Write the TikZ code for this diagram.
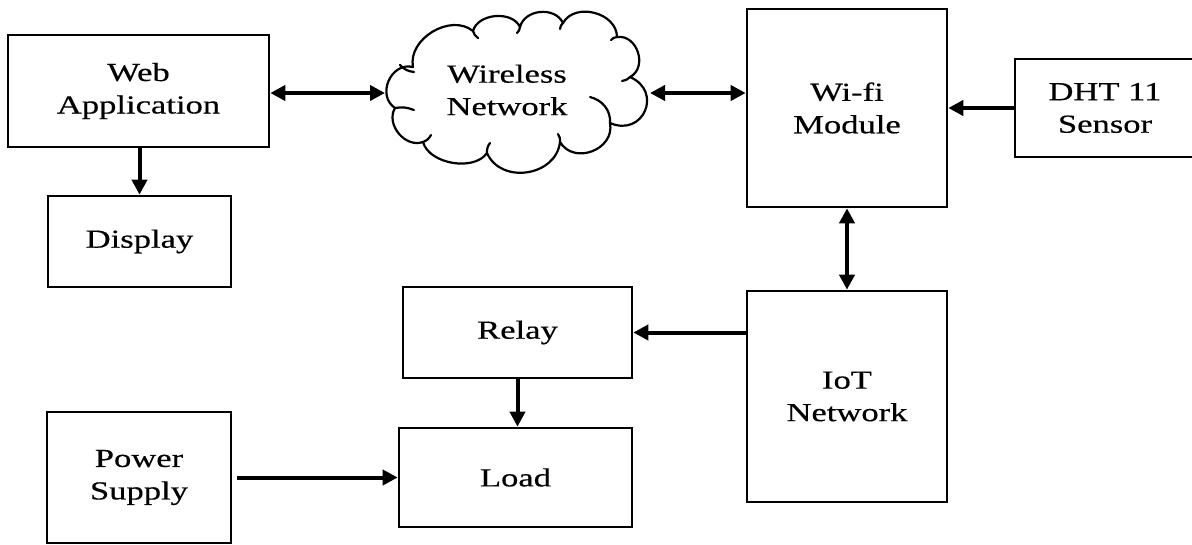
\documentclass[tikz,border=0pt]{standalone}
\usepackage{fontspec}
\setmainfont{Liberation Serif}[FakeStretch=1.33,FakeBold=0.4]
\usetikzlibrary{arrows.meta}

\begin{document}
\begin{tikzpicture}[x=1pt,y=-1pt,
  txt/.style={font=\fontsize{26}{32.5}\selectfont, align=center},
  blk/.style={txt, draw, line width=2.6pt, rectangle, inner sep=0pt},
  link/.style={line width=4pt, -{Triangle[length=15pt,width=15pt]}},
  both/.style={line width=4pt, {Triangle[length=15pt,width=15pt]}-{Triangle[length=15pt,width=15pt]}},
  puff/.style={line width=2.2pt, line cap=round, line join=round},
]
\useasboundingbox (0,0) rectangle (1192,544);
\fill[white] (0,0) rectangle (1192,544);

% blocks
\node[blk, minimum width=261pt, minimum height=112pt] (web)   at (138.5,91)   {Web\\Application};
\node[blk, minimum width=183pt, minimum height=91pt]  (disp)  at (139.5,241.5) {Display};
\node[blk, minimum width=200pt, minimum height=198pt] (wifi)  at (847,108)    {Wi-fi\\Module};
\node[blk, minimum width=180pt, minimum height=98pt]  (dht)   at (1105,108)   {DHT 11\\Sensor};
\node[blk, minimum width=200pt, minimum height=211pt] (iot)   at (847,396.5)  {IoT\\Network};
\node[blk, minimum width=229pt, minimum height=91pt]  (relay) at (517.5,332.5) {Relay};
\node[blk, minimum width=233pt, minimum height=99pt]  (load)  at (515.5,477.5) {Load};
\node[blk, minimum width=184pt, minimum height=131pt] (power) at (139,477.5)  {Power\\Supply};

% wireless network cloud: outline of puffs (y axis points down)
\draw[puff] (413,67)
  to[bend left=70, looseness=1.05] (473,31)
  to[bend left=70, looseness=1.0]  (520,27)
  to[bend left=70, looseness=1.1]  (563,23)
  to[bend left=75, looseness=1.12] (617,37)
  to[bend left=80, looseness=1.25] (630,77)
  to[bend left=90, looseness=1.85] (610,123)
  to[bend left=80, looseness=1.3]  (560,142)
  to[bend left=75, looseness=1.2]  (487,153)
  to[bend left=65, looseness=0.9]  (423,142)
  to[bend left=70, looseness=1.1]  (395,108)
  to[bend left=80, looseness=1.3]  cycle;
% inner curls of the puffs
\draw[puff] (400,65) to[bend right=20] (414,72);
\draw[puff] (395,108) to[bend left=15] (414,110);
\draw[puff] (423,142) to[bend right=20] (431,135);
\draw[puff] (487,153) to[bend left=20] (490,143);
\draw[puff] (473,31) to[bend right=20] (478,38);
\draw[puff] (520,27) to[bend left=20] (517,33);
\draw[puff] (563,23) to[bend right=20] (560,29);
\draw[puff] (617,37) to[bend right=20] (611,40);
\draw[puff] (630,77) to[bend left=20] (622,81);
\draw[puff] (590,97) .. controls (602,100) and (611,110) .. (610,123);
\draw[puff] (560,142) to[bend right=20] (558,134);
\coordinate (netW) at (385,93);
\coordinate (netE) at (650,93);
\node[txt] (net) at (507,90) {Wireless\\Network};

% connectors
\draw[both] (web.east |- netW) -- (netW);
\draw[both] (netE) -- (wifi.west |- netE);
\draw[link] (dht.west) -- (wifi.east |- dht.west);
\draw[link] (web.south -| disp.north) -- (disp.north);
\draw[both] (wifi.south) -- (iot.north);
\draw[link] (iot.west |- relay.east) -- (relay.east);
\draw[link] (relay.south) -- (load.north -| relay.south);
\draw[link, shorten <=5pt] (power.east) -- (load.west |- power.east);
\end{tikzpicture}
\end{document}
